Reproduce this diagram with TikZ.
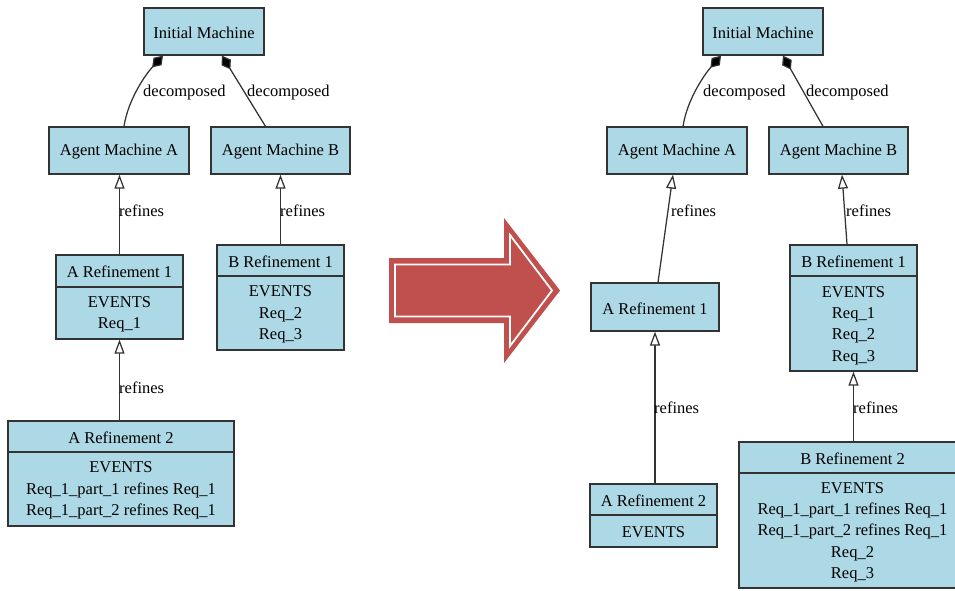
\documentclass[tikz,border=0pt]{standalone}
\usepackage{fontspec}
\setmainfont{Liberation Serif}
\usetikzlibrary{arrows.meta}
\definecolor{boxfill}{HTML}{ADD8E6}
\definecolor{boxline}{HTML}{333333}
\definecolor{bigarrow}{HTML}{C0504D}
\begin{document}
\begin{tikzpicture}[x=1pt,y=-1pt,
  box/.style={draw=boxline, fill=boxfill, line width=1.3pt, inner sep=0pt},
  txt/.style={inner sep=0pt, font=\fontsize{16.5}{21.3}\selectfont, text=black, align=center},
  lbl/.style={inner sep=0pt, font=\fontsize{16.5}{20}\selectfont, anchor=west},
  divider/.style={draw=boxline, line width=1.3pt},
  link/.style={draw=boxline, line width=1.25pt},
  decomp/.style={link, -{Diamond[length=16pt, width=11pt, fill=black]}},
  refines/.style={link, -{Triangle[open, length=14pt, width=10pt, fill=white]}},
]
\clip (0,0) rectangle (955,590);
\fill[white] (0,0) rectangle (955,590);

% ---------------- before ----------------
\node[box, minimum width=120pt, minimum height=47pt] (initL) at (204,31.5) {};
\node[txt] (initLt) at ([yshift=-1pt]initL.center) {Initial Machine};
\node[box, minimum width=140pt, minimum height=47pt] (agAL) at (119,150.5) {};
\node[txt] (agALt) at ([yshift=-1pt]agAL.center) {Agent Machine A};
\node[box, minimum width=139pt, minimum height=47pt] (agBL) at (280.5,150.5) {};
\node[txt] (agBLt) at ([yshift=-1pt]agBL.center) {Agent Machine B};

\node[box, minimum width=127pt, minimum height=84pt] (aR1L) at (119.5,297) {};
\draw[divider] (aR1L.west |- 0,287) -- (aR1L.east |- 0,287);
\node[txt] (aR1Lt) at (119.5,272) {A Refinement 1};
\node[txt] (aR1Lb) at (119.5,314) {EVENTS\\Req\_1};

\node[box, minimum width=127pt, minimum height=105pt] (bR1L) at (280.5,297.5) {};
\draw[divider] (bR1L.west |- 0,276) -- (bR1L.east |- 0,276);
\node[txt] (bR1Lt) at (280.5,262) {B Refinement 1};
\node[txt] (bR1Lb) at (280.5,314.5) {EVENTS\\Req\_2\\Req\_3};

\node[box, minimum width=226pt, minimum height=105pt] (aR2L) at (121,473.5) {};
\draw[divider] (aR2L.west |- 0,452) -- (aR2L.east |- 0,452);
\node[txt] (aR2Lt) at (121,438) {A Refinement 2};
\node[txt] (aR2Lb) at (121,490.5) {EVENTS\\Req\_1\_part\_1 refines Req\_1\\Req\_1\_part\_2 refines Req\_1};

\draw[decomp] ([xshift=5pt]agAL.north) .. controls (128,100) and (145,75) .. ([xshift=-41pt]initL.south);
\draw[decomp] ([xshift=-15pt]agBL.north) -- ([xshift=18pt]initL.south);
\draw[refines] (aR1L.north) -- (aR1L.north |- agAL.south);
\draw[refines] (bR1L.north) -- (bR1L.north |- agBL.south);
\draw[refines] (aR1L.south |- aR2L.north) -- (aR1L.south);

\node[lbl] (dAL) at (143,93) {decomposed};
\node[lbl] (dBL) at (247,93) {decomposed};
\node[lbl] (rAL) at (119,211) {refines};
\node[lbl] (rBL) at (280,211) {refines};
\node[lbl] (rA2L) at (119,388) {refines};

% ---------------- transition arrow ----------------
\fill[bigarrow] (389,258) -- (504,258) -- (504,218) -- (560,290.5) -- (504,363) -- (504,323) -- (389,323) -- cycle;
\draw[white, line width=1.8pt, line join=miter] (395,264.5) -- (510,264.5) -- (510,235) -- (552,290.5) -- (510,346) -- (510,316.5) -- (395,316.5) -- cycle;

% ---------------- after ----------------
\node[box, minimum width=120pt, minimum height=47pt] (initR) at (763,31.5) {};
\node[txt] (initRt) at ([yshift=-1pt]initR.center) {Initial Machine};
\node[box, minimum width=140pt, minimum height=47pt] (agAR) at (677,150.5) {};
\node[txt] (agARt) at ([yshift=-1pt]agAR.center) {Agent Machine A};
\node[box, minimum width=139pt, minimum height=47pt] (agBR) at (838.5,150.5) {};
\node[txt] (agBRt) at ([yshift=-1pt]agBR.center) {Agent Machine B};

\node[box, minimum width=128pt, minimum height=48pt] (aR1R) at (655,307) {};
\node[txt] (aR1Rt) at ([yshift=-1.5pt]aR1R.center) {A Refinement 1};

\node[box, minimum width=127pt, minimum height=63pt] (aR2R) at (653.5,515.5) {};
\draw[divider] (aR2R.west |- 0,515) -- (aR2R.east |- 0,515);
\node[txt] (aR2Rt) at (653.5,500.5) {A Refinement 2};
\node[txt] (aR2Rb) at (653.5,532) {EVENTS};

\node[box, minimum width=127pt, minimum height=126pt] (bR1R) at (853.5,308) {};
\draw[divider] (bR1R.west |- 0,276) -- (bR1R.east |- 0,276);
\node[txt] (bR1Rt) at (853.5,262) {B Refinement 1};
\node[txt] (bR1Rb) at (853.5,325.5) {EVENTS\\Req\_1\\Req\_2\\Req\_3};

\node[box, minimum width=227pt, minimum height=146pt] (bR2R) at (852.5,515) {};
\draw[divider] (bR2R.west |- 0,473) -- (bR2R.east |- 0,473);
\node[txt] (bR2Rt) at (852.5,458.5) {B Refinement 2};
\node[txt] (bR2Rb) at (852.5,532) {EVENTS\\Req\_1\_part\_1 refines Req\_1\\Req\_1\_part\_2 refines Req\_1\\Req\_2\\Req\_3};

\draw[decomp] ([xshift=6pt]agAR.north) .. controls (687,100) and (704,75) .. ([xshift=-42pt]initR.south);
\draw[decomp] ([xshift=-15.5pt]agBR.north) -- ([xshift=20pt]initR.south);
\draw[refines] ([xshift=3pt]aR1R.north) -- ([xshift=-4pt]agAR.south);
\draw[refines] ([xshift=-6.5pt]bR1R.north) -- ([xshift=3.5pt]agBR.south);
\draw[refines] (aR1R.south |- aR2R.north) -- (aR1R.south);
\draw[refines] (bR1R.south |- bR2R.north) -- (bR1R.south);

\node[lbl] (dAR) at (703,93) {decomposed};
\node[lbl] (dBR) at (806,93) {decomposed};
\node[lbl] (rAR) at (671,211) {refines};
\node[lbl] (rBR) at (846,211) {refines};
\node[lbl] (rA2R) at (654,408) {refines};
\node[lbl] (rB2R) at (853,408) {refines};
\end{tikzpicture}
\end{document}
